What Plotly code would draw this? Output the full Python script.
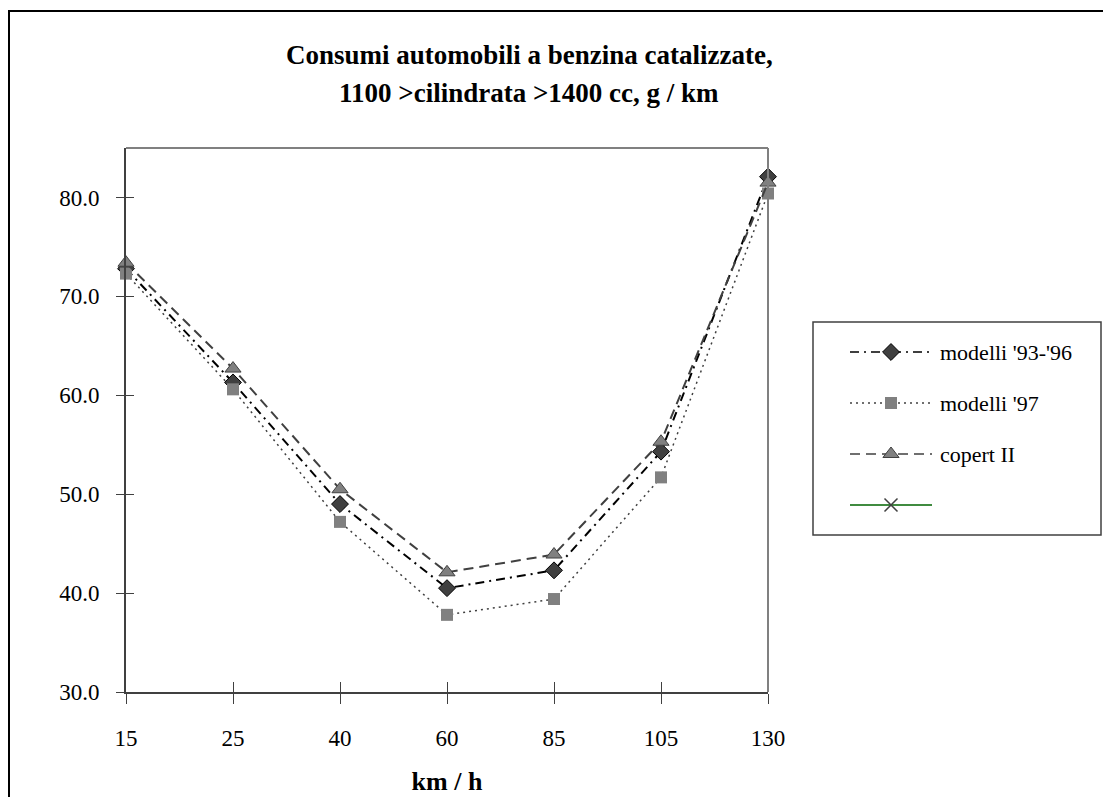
import plotly.graph_objects as go

# ---------------- data ----------------
speeds = ["15", "25", "40", "60", "85", "105", "130"]
modelli_93_96 = [72.8, 61.3, 49.0, 40.5, 42.3, 54.3, 82.1]
modelli_97 = [72.3, 60.6, 47.2, 37.8, 39.4, 51.7, 80.4]
copert_ii = [73.4, 62.7, 50.5, 42.1, 43.9, 55.3, 81.5]
series_names = ["modelli '93-'96", "modelli '97", "copert II", ""]
y_range = [30, 85]

title_line1 = "Consumi automobili a benzina catalizzate,"
title_line2 = "1100 >cilindrata >1400 cc, g / km"
x_title = "km / h"

# ---------------- styles / geometry (page pixel coordinates) ----------------
FONT = "Liberation Serif"
OFF = 8                      # default body margin of the html page
W, H = 1111 - 2 * OFF, 805 - 2 * OFF
PLOT_L, PLOT_R, PLOT_T, PLOT_B = 126, 768, 148, 692
ML = PLOT_L - OFF
MT = PLOT_T - OFF
MB = H - (PLOT_B - OFF)
MR = 0
PAPER_W = W - ML - MR
PLOT_H = H - MT - MB
FIG_R, FIG_B = OFF + W, OFF + H


def px_x(px):
    return (px - OFF - ML) / PAPER_W


def px_y(py):
    return (H - MB - (py - OFF)) / PLOT_H


styles = [
    dict(line=dict(color="#000000", width=2, dash="9px,5px,2px,5px"),
         marker=dict(symbol="diamond", size=13, color="#404040",
                     line=dict(color="#000000", width=1))),
    dict(line=dict(color="#404040", width=1.5, dash="2px,4px"),
         marker=dict(symbol="square", size=12, color="#808080",
                     line=dict(color="#808080", width=0))),
    dict(line=dict(color="#404040", width=2, dash="10px,6px"),
         marker=dict(symbol="triangle-up", size=14, color="#808080",
                     line=dict(color="#404040", width=1))),
    dict(line=dict(color="#006400", width=1.5),
         marker=dict(symbol="x-thin", size=13, color="#404040",
                     line=dict(color="#404040", width=1.5))),
]

fig = go.Figure()

for vals, st, name in zip([modelli_93_96, modelli_97, copert_ii], styles[:3], series_names[:3]):
    fig.add_trace(go.Scatter(x=speeds, y=vals, mode="lines+markers", name=name,
                             line=st["line"], marker=st["marker"], showlegend=False,
                             xaxis="x", yaxis="y", cliponaxis=False))

# ---------------- manual legend (pixel-coordinate axes) ----------------
LEG_X0, LEG_X1, LEG_Y0, LEG_Y1 = 813, 1101, 322, 535
leg_rows = [352, 403, 454, 505]
samp_x = [850, 891, 932]
for st, name, ry in zip(styles, series_names, leg_rows):
    fig.add_trace(go.Scatter(x=[samp_x[0], samp_x[2]], y=[ry, ry], mode="lines",
                             line=dict(color=st["line"]["color"], width=1.5,
                                       dash=st["line"].get("dash", "solid")),
                             showlegend=False, hoverinfo="skip",
                             xaxis="x3", yaxis="y3"))
    fig.add_trace(go.Scatter(x=[samp_x[1]], y=[ry], mode="markers",
                             marker=st["marker"], showlegend=False, hoverinfo="skip",
                             xaxis="x3", yaxis="y3"))
    if name:
        fig.add_annotation(x=938, y=ry, xref="x3", yref="y3", text=name,
                           showarrow=False, xanchor="left", yanchor="middle",
                           font=dict(family=FONT, size=22, color="#000000"))

x_dom = [0, px_x(PLOT_R)]
fig.update_layout(
    width=W, height=H,
    margin=dict(l=ML, r=MR, t=MT, b=MB, pad=0, autoexpand=False),
    paper_bgcolor="white", plot_bgcolor="white",
    font=dict(family=FONT, size=23, color="#000000"),
    xaxis=dict(domain=x_dom, type="category", categoryorder="array", categoryarray=speeds,
               range=[0, len(speeds) - 1], showgrid=False, zeroline=False,
               showline=True, linecolor="#404040", linewidth=2,
               ticks="outside", ticklen=10, tickwidth=1, tickcolor="#404040",
               ticklabelstandoff=14, automargin=False,
               tickfont=dict(family=FONT, size=23, color="#000000"),
               title=dict(text="<b>" + x_title + "</b>", standoff=22,
                          font=dict(family=FONT, size=26, color="#000000"))),
    xaxis2=dict(domain=x_dom, type="category", categoryorder="array", categoryarray=speeds,
                range=[0, len(speeds) - 1], overlaying="x", anchor="y",
                showgrid=False, zeroline=False, showline=False,
                ticks="inside", ticklen=10, tickwidth=1, tickcolor="#404040",
                showticklabels=False),
    yaxis=dict(range=y_range, dtick=10, tick0=30, tickformat=".1f",
               showgrid=False, zeroline=False,
               showline=True, linecolor="#404040", linewidth=2,
               ticks="outside", ticklen=8, tickwidth=1, tickcolor="#404040",
               ticklabelstandoff=12, automargin=False,
               tickfont=dict(family=FONT, size=23, color="#000000")),
    yaxis2=dict(range=y_range, dtick=10, tick0=30, overlaying="y", anchor="x",
                showgrid=False, zeroline=False, showline=False,
                ticks="inside", ticklen=8, tickwidth=1, tickcolor="#404040",
                showticklabels=False),
    xaxis3=dict(domain=[px_x(LEG_X0), px_x(LEG_X1)], range=[LEG_X0, LEG_X1], anchor="y3",
                visible=False, fixedrange=True),
    yaxis3=dict(domain=[px_y(LEG_Y1), px_y(LEG_Y0)], range=[LEG_Y1, LEG_Y0], anchor="x3",
                visible=False, fixedrange=True),
    showlegend=False,
)

# trace referencing overlay axes so they render their ticks
fig.add_trace(go.Scatter(x=[speeds[0]], y=[y_range[0]], xaxis="x2", yaxis="y2",
                         mode="markers", marker=dict(opacity=0), showlegend=False,
                         hoverinfo="skip"))

# plot area top/right borders (gray)
fig.add_shape(type="line", xref="x domain", yref="y domain", x0=0, x1=1, y0=1, y1=1,
              line=dict(color="#808080", width=2))
fig.add_shape(type="line", xref="x domain", yref="y domain", x0=1, x1=1, y0=0, y1=1,
              line=dict(color="#808080", width=2))
# legend box
fig.add_shape(type="rect", xref="x3 domain", yref="y3 domain", x0=0, x1=1, y0=0, y1=1,
              line=dict(color="#404040", width=1.5), fillcolor="rgba(0,0,0,0)")
# outer chart border (top and left edges; the rest lies outside the picture)
fig.add_shape(type="line", xref="paper", yref="paper",
              x0=px_x(8), x1=px_x(FIG_R), y0=px_y(11), y1=px_y(11),
              line=dict(color="#000000", width=2))
fig.add_shape(type="line", xref="paper", yref="paper",
              x0=px_x(9), x1=px_x(9), y0=px_y(10), y1=px_y(FIG_B),
              line=dict(color="#000000", width=2))

# title (two lines)
for txt, ty in [(title_line1, 55), (title_line2, 93)]:
    fig.add_annotation(x=px_x(529), y=px_y(ty), xref="paper", yref="paper",
                       text="<b>" + txt + "</b>", showarrow=False,
                       xanchor="center", yanchor="middle",
                       font=dict(family=FONT, size=27, color="#000000"))

fig.write_html("out.html")
